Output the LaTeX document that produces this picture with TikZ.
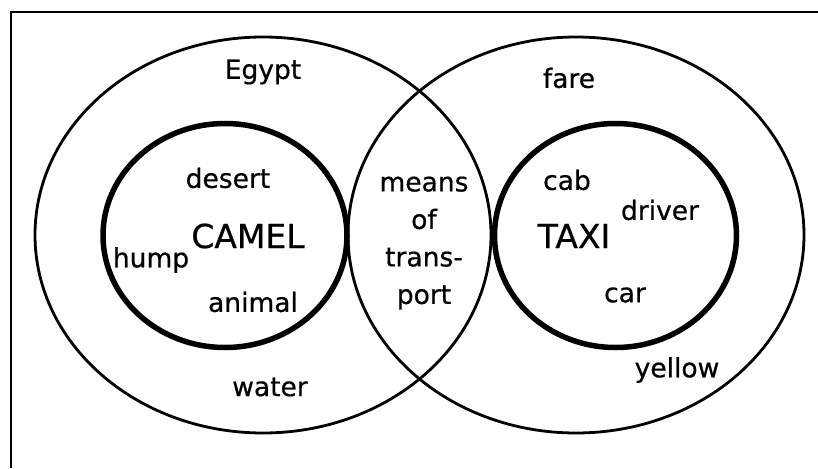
\documentclass[tikz,border=0pt]{standalone}
\usepackage{fontspec}
\setmainfont{DejaVu Sans}
\newfontfamily\vennfont[FakeBold=0.6]{DejaVu Sans}
\begin{document}
\begin{tikzpicture}[x=1pt,y=-1pt,
  word/.style={inner sep=0pt,font=\vennfont\fontsize{26.5}{37.5}\selectfont},
  bigword/.style={inner sep=0pt,font=\vennfont\fontsize{33}{38}\selectfont},
  outerring/.style={draw,line width=2.8pt},
  innerring/.style={draw,line width=5.5pt}]
\useasboundingbox (0,0) rectangle (818,468);
\draw[line width=1.4pt] (11,468) -- (11,12) -- (818,12);
% rings
\draw[outerring] (263,235) ellipse [x radius=228pt, y radius=198pt];
\draw[outerring] (576,235) ellipse [x radius=228pt, y radius=198pt];
\draw[innerring] (225,235.5) ellipse [x radius=122pt, y radius=112pt];
\draw[innerring] (615.5,235.5) ellipse [x radius=121pt, y radius=112pt];
% words
\node[word] (egypt) at (263,72) {Egypt};
\node[word] (fare) at (569,78) {fare};
\node[word] (desert) at (228,178) {desert};
\node[bigword] (camel) at (248,236) {CAMEL};
\node[word] (hump) at (151,260) {hump};
\node[word] (animal) at (253,302) {animal};
\node[word] (water) at (270,387) {water};
\node[word,align=center] (lens) at (424,243) {means\\of\\trans-\\port};
\node[word] (cab) at (567,180) {cab};
\node[word] (driver) at (660,210) {driver};
\node[bigword] (taxi) at (574,236) {TAXI};
\node[word] (car) at (625,295) {car};
\node[word] (yellow) at (677,370) {yellow};
\end{tikzpicture}
\end{document}
